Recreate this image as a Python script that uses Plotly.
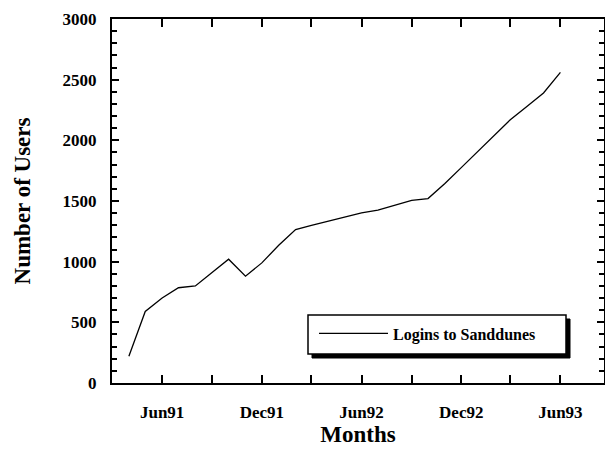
import plotly.graph_objects as go

# Data (monthly login counts)
months = ["1991-04-01", "1991-05-01", "1991-06-01", "1991-07-01", "1991-08-01",
          "1991-09-01", "1991-10-01", "1991-11-01", "1991-12-01", "1992-01-01",
          "1992-02-01", "1992-03-01", "1992-04-01", "1992-05-01", "1992-06-01",
          "1992-07-01", "1992-08-01", "1992-09-01", "1992-10-01", "1992-11-01",
          "1992-12-01", "1993-01-01", "1993-02-01", "1993-03-01", "1993-04-01",
          "1993-05-01", "1993-06-01"]
logins = [220, 590, 700, 785, 800,
          910, 1020, 880, 990, 1135,
          1265, 1300, 1335, 1368, 1402,
          1425, 1468, 1505, 1520, 1645,
          1775, 1910, 2040, 2170, 2280,
          2390, 2560]

series_name = "Logins to Sanddunes"
x_title = "Months"
y_title = "Number of Users"
y_ticks = [0, 500, 1000, 1500, 2000, 2500, 3000]
x_range = ["1991-03-01", "1993-08-20"]
y_range = [0, 3000]

FONT = "Liberation Serif, Times New Roman, serif"
CLEAR = "rgba(0,0,0,0)"

fig = go.Figure()
fig.add_trace(go.Scatter(
    x=months, y=logins, mode="lines", name=series_name,
    line=dict(color="black", width=1.3),
))
# empty trace that carries the overlay axes used for the inward tick marks
fig.add_trace(go.Scatter(x=[], y=[], xaxis="x2", yaxis="y2",
                         showlegend=False, hoverinfo="skip"))

# plot-area geometry (pixels)
L, R, T, B = 112, 1, 19, 68
W, H = 605, 451
pw, ph = W - L - R, H - T - B

def px(xp):
    return (xp - L) / pw

def py(yp):
    return (H - B - yp) / ph

# legend box with drop shadow
bx0, bx1, by0, by1 = 308, 566, 315, 354
shapes = [
    dict(type="rect", xref="paper", yref="paper",
         x0=px(bx0 + 4), x1=px(bx1 + 4), y0=py(by0 + 4), y1=py(by1 + 4),
         fillcolor="black", line=dict(color="black", width=1), layer="above"),
    dict(type="rect", xref="paper", yref="paper",
         x0=px(bx0), x1=px(bx1), y0=py(by0), y1=py(by1),
         fillcolor="white", line=dict(color="black", width=1.5), layer="above"),
]

tickfont = dict(family=FONT, size=17, color="black", weight="bold")
titlefont = dict(family=FONT, size=23, color="black", weight="bold")

fig.update_layout(
    width=W, height=H,
    margin=dict(l=L, r=R, t=T, b=B, pad=0, autoexpand=False),
    paper_bgcolor="white", plot_bgcolor="white",
    showlegend=True,
    legend=dict(
        x=px(bx0 + 6), y=py((by0 + by1) / 2 - 1), xanchor="left", yanchor="middle",
        bgcolor=CLEAR, borderwidth=0,
        itemwidth=69,
        font=dict(family=FONT, size=16, color="black", weight="bold"),
    ),
    shapes=shapes,
    # label axes (transparent outside ticks push the labels away from the frame)
    xaxis=dict(
        type="date", range=x_range,
        dtick="M6", tick0="1991-06-01", tickformat="%b%y",
        ticks="outside", ticklen=13, tickcolor=CLEAR,
        showline=True, linecolor="black", linewidth=2, mirror=True,
        showgrid=False, zeroline=False, automargin=False,
        tickfont=tickfont,
        title=dict(text=x_title, standoff=3, font=titlefont),
    ),
    yaxis=dict(
        range=y_range,
        tickvals=y_ticks, ticktext=[str(v) for v in y_ticks],
        ticks="outside", ticklen=10, tickcolor=CLEAR,
        showline=True, linecolor="black", linewidth=2, mirror=True,
        showgrid=False, zeroline=False, automargin=False,
        tickfont=tickfont,
        title=dict(text=y_title, standoff=26, font=titlefont),
    ),
    # tick-mark axes (inward ticks on all four sides, no labels)
    xaxis2=dict(
        type="date", range=x_range, overlaying="x", anchor="y2",
        dtick="M3", tick0="1991-06-01",
        ticks="inside", ticklen=8, tickwidth=1.5, tickcolor="black",
        showticklabels=False, showline=True, linecolor="black", linewidth=2,
        mirror="allticks", showgrid=False, zeroline=False, automargin=False,
    ),
    yaxis2=dict(
        range=y_range, overlaying="y", anchor="x2",
        dtick=500, tick0=0,
        ticks="inside", ticklen=7, tickwidth=1.5, tickcolor="black",
        minor=dict(dtick=100, ticks="inside", ticklen=5, tickwidth=1.5,
                   tickcolor="black", showgrid=False),
        showticklabels=False, showline=True, linecolor="black", linewidth=2,
        mirror="allticks", showgrid=False, zeroline=False, automargin=False,
    ),
)

fig.write_html("out.html", config={"displayModeBar": False},
               post_script="document.body.style.margin='0px';")
